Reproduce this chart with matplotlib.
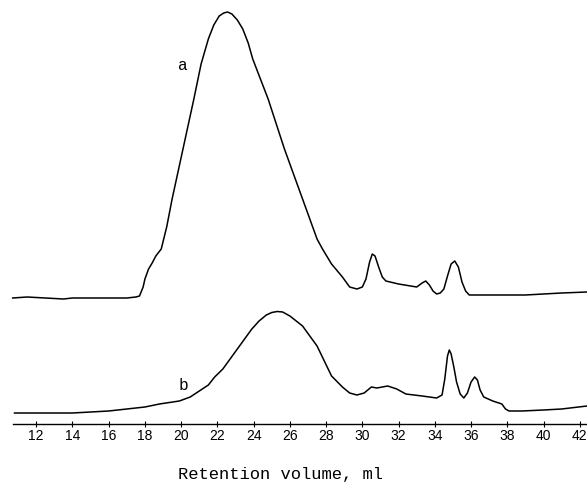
import numpy as np
import matplotlib
matplotlib.use("Agg")
from matplotlib import pyplot as plt

# curve a (retention volume in ml, detector response in arbitrary units)
vol_a = [10.7, 11.5, 12.5, 13.5, 14.0, 15.0, 16.0, 17.0, 17.5, 17.7, 17.9, 18.0, 18.2, 18.4,
         18.6, 18.9, 19.2, 19.5, 19.8, 20.1, 20.4, 20.7, 21.1, 21.5, 21.8, 22.1, 22.35, 22.56,
         22.8, 23.1, 23.4, 23.7, 23.95, 24.8, 25.7, 26.7, 27.5, 27.8, 28.3, 28.9, 29.3, 29.7,
         30.0, 30.2, 30.4, 30.55, 30.7, 30.9, 31.1, 31.3, 32.0, 33.0, 33.3, 33.5, 33.7, 33.9,
         34.1, 34.3, 34.5, 34.7, 34.9, 35.1, 35.3, 35.5, 35.7, 35.9, 37.0, 38.0, 39.0, 40.0,
         41.0, 42.4]
resp_a = [126, 127, 126, 125, 126, 126, 126, 126, 127, 128, 137, 145, 155, 161,
          168, 175, 197, 225, 250, 275, 300, 325, 360, 385, 399, 408, 411, 412,
          410, 404, 395, 381, 365, 325, 275, 225, 185, 175, 160, 147, 137, 135,
          137, 145, 162, 170, 168, 157, 147, 143, 140, 137, 141, 143, 139, 133,
          130, 131, 135, 148, 160, 163, 157, 142, 133, 129, 129, 129, 129, 130,
          131, 132]

# curve b
vol_b = [10.8, 12.0, 13.0, 14.0, 15.0, 16.0, 17.0, 18.0, 18.8, 19.9, 20.5, 21.0, 21.5, 21.85,
         22.3, 22.7, 23.1, 23.5, 23.9, 24.3, 24.7, 25.0, 25.3, 25.6, 26.0, 26.7, 27.5, 28.3,
         28.9, 29.3, 29.7, 30.1, 30.5, 30.8, 31.4, 31.9, 32.4, 33.3, 34.1, 34.4, 34.55, 34.7,
         34.8, 34.9, 35.05, 35.2, 35.4, 35.6, 35.8, 36.0, 36.2, 36.35, 36.5, 36.7, 37.2, 37.7,
         37.9, 38.1, 38.8, 40.0, 41.0, 42.4]
resp_b = [11, 11, 11, 11, 12, 13, 15, 17, 20, 23, 27, 33, 39, 47,
          55, 65, 75, 85, 95, 103, 109, 111.5, 112.5, 112, 108, 98, 78, 48,
          37, 31, 29, 31, 37, 36, 38, 35, 30, 28, 26, 29, 45, 68,
          74, 70, 57, 42, 30, 26, 31, 42, 47, 44, 34, 27, 23, 20,
          15, 13, 13, 14, 15, 18]

ticks = list(range(12, 43, 2))

fig = plt.figure(figsize=(5.87, 4.89), dpi=100)
ax = fig.add_axes([0, 1 - 425 / 489, 1, 425 / 489])

ax.plot(vol_a, resp_a, color='black', lw=1.1, solid_joinstyle='round')
ax.plot(vol_b, resp_b, color='black', lw=1.1, solid_joinstyle='round')

ax.text(20.1, 360, 'a', family='Liberation Mono', fontsize=11.5, ha='center', va='center')
ax.text(20.1, 40, 'b', family='Liberation Mono', fontsize=11.5, ha='center', va='center')

ax.set_xlim(10.0, 42.4)
ax.set_ylim(0, 425)
for s in ['top', 'left', 'right']:
    ax.spines[s].set_visible(False)
ax.spines['bottom'].set_bounds(10.7, 42.4)
ax.spines['bottom'].set_linewidth(1.0)
ax.set_yticks([])
ax.set_xticks(ticks)
ax.tick_params(axis='x', direction='inout', length=4, width=0.8, pad=1, labelsize=10)
for lab in ax.get_xticklabels():
    lab.set_family('Liberation Sans')

fig.text(281 / 587, 1 - 475 / 489, 'Retention volume, ml', family='Liberation Mono',
         fontsize=12.3, ha='center', va='center')

fig.savefig('out.png', dpi=100)
